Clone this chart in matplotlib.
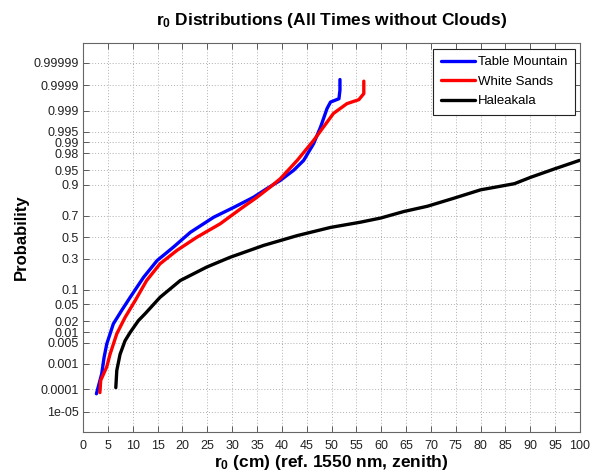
import numpy as np
import matplotlib
matplotlib.use("Agg")
import matplotlib.pyplot as plt
from matplotlib.ticker import NullLocator, FixedLocator, FixedFormatter
from statistics import NormalDist

plt.rcParams['font.family'] = ['Liberation Sans', 'DejaVu Sans']
plt.rcParams['mathtext.fontset'] = 'custom'
plt.rcParams['mathtext.rm'] = 'Liberation Sans:bold'
plt.rcParams['mathtext.it'] = 'Liberation Sans:bold'
plt.rcParams['mathtext.default'] = 'rm'

# ---- data ----
tm_r0 = [2.7, 3.77, 4.23, 4.78, 6.1, 7.8, 9.5, 12.2, 14.9, 18.2, 21.6, 26.3, 30.3,
         34.3, 37.0, 39.7, 42.4, 44.4, 46.4, 47.8, 49.1, 49.8, 51.5, 51.7, 51.7]
tm_p = [6.4e-5, 4.2e-4, 0.0016, 0.0045, 0.017, 0.037, 0.071, 0.164, 0.284, 0.405,
        0.548, 0.688, 0.767, 0.836, 0.883, 0.918, 0.9495, 0.970, 0.989, 0.9965,
        0.99918, 0.99953, 0.99965, 0.99984, 0.999943]

ws_r0 = [3.4, 3.56, 4.78, 5.44, 6.8, 8.47, 10.5, 12.8, 15.5, 18.9, 22.9, 27.6, 31.65,
         35.0, 37.7, 39.7, 43.1, 46.4, 48.4, 50.4, 53.1, 55.5, 56.5, 56.5]
ws_p = [7.2e-5, 2.3e-4, 7.6e-4, 0.0021, 0.0091, 0.025, 0.0606, 0.1446, 0.258, 0.374,
        0.5, 0.629, 0.755, 0.836, 0.891, 0.924, 0.970, 0.9911, 0.99653, 0.99878,
        0.99946, 0.99962, 0.99978, 0.999933]

ha_r0 = [6.6, 6.8, 7.46, 8.47, 9.48, 11.15, 12.5, 15.5, 19.56, 24.9, 29.6, 36.35,
         43.1, 49.8, 55.85, 59.9, 64.6, 69.3, 74.7, 80.0, 86.8, 90.1, 94.8, 99.9]
ha_p = [1.17e-4, 5.6e-4, 0.0021, 0.0057, 0.0099, 0.0207, 0.0307, 0.0708, 0.1446,
        0.233, 0.312, 0.421, 0.516, 0.595, 0.644, 0.681, 0.736, 0.776, 0.831, 0.877,
        0.905, 0.929, 0.9525, 0.970]

series_names = ['Table Mountain', 'White Sands', 'Haleakala']
series_colors = ['#0000ff', '#ff0000', '#000000']

prob_ticks = [1e-05, 0.0001, 0.001, 0.005, 0.01, 0.02, 0.05, 0.1, 0.3, 0.5, 0.7,
              0.9, 0.95, 0.98, 0.99, 0.995, 0.999, 0.9999, 0.99999]
prob_labels = ['1e-05', '0.0001', '0.001', '0.005', '0.01', '0.02', '0.05', '0.1',
               '0.3', '0.5', '0.7', '0.9', '0.95', '0.98', '0.99', '0.995', '0.999',
               '0.9999', '0.99999']
x_ticks = list(range(0, 101, 5))

# ---- normal probability scale ----
_nd = NormalDist()
_ppf = np.vectorize(lambda p: _nd.inv_cdf(min(max(float(p), 1e-15), 1 - 1e-15)),
                    otypes=[float])
_cdf = np.vectorize(lambda z: _nd.cdf(float(z)), otypes=[float])


def fwd(p):
    return _ppf(np.asarray(p, dtype=float))


def inv(z):
    return _cdf(np.asarray(z, dtype=float))


fig = plt.figure(figsize=(5.97, 4.75), dpi=100)
ax = fig.add_axes([83 / 597, 1 - 431.5 / 475, (580 - 83) / 597, (431.5 - 43) / 475])
ax.set_yscale('function', functions=(fwd, inv))

for xs, ps, name, col in zip([tm_r0, ws_r0, ha_r0], [tm_p, ws_p, ha_p],
                             series_names, series_colors):
    ax.plot(xs, ps, color=col, lw=2.4, label=name, solid_joinstyle='round',
            solid_capstyle='round')

ax.set_xlim(0, 100)
ax.set_ylim(1e-6, 1 - 1e-6)
ax.yaxis.set_major_locator(FixedLocator(prob_ticks))
ax.yaxis.set_major_formatter(FixedFormatter(prob_labels))
ax.yaxis.set_minor_locator(NullLocator())
ax.set_xticks(x_ticks)
ax.set_xticklabels([str(t) for t in x_ticks])

ax.grid(True, color='#b0b0b0', linestyle=(0, (1, 2)), linewidth=0.7)
ax.tick_params(direction='in', length=4, width=0.6, top=True, right=True,
               labelsize=9, colors='#444444', labelcolor='#222222', pad=3)
ax.tick_params(axis='x', pad=6)
for s in ax.spines.values():
    s.set_color('#666666')
    s.set_linewidth(0.8)

ax.set_title(r'r$_0$ Distributions (All Times without Clouds)', fontsize=12.5,
             fontweight='bold', pad=13)
ax.set_xlabel(r'r$_0$ (cm) (ref. 1550 nm, zenith)', fontsize=12.5, fontweight='bold',
              labelpad=1)
ax.set_ylabel('Probability', fontsize=12, fontweight='bold', labelpad=3)

leg = ax.legend(loc='upper right', bbox_to_anchor=(0.99, 0.985), fontsize=9.5,
                frameon=True, fancybox=False, edgecolor='#222222', framealpha=1,
                handlelength=2.6, borderaxespad=0, borderpad=0.55, labelspacing=0.55,
                handletextpad=0.25)
leg.get_frame().set_linewidth(0.8)

fig.savefig('out.png', dpi=100)
